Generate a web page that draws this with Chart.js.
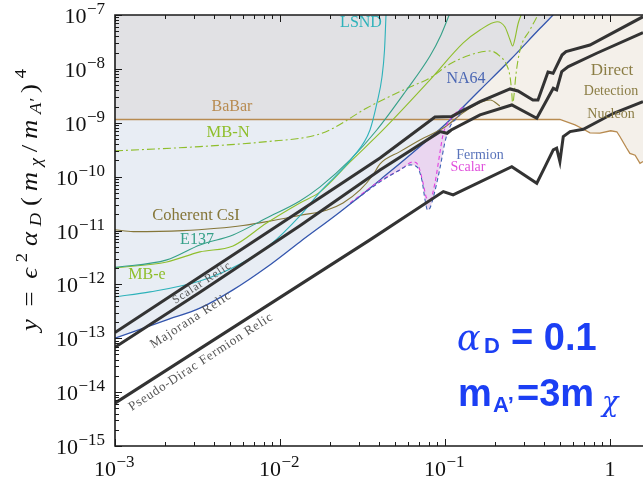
<!DOCTYPE html>
<html>
<head>
<meta charset="UTF-8">
<title>Relic targets, alpha_D = 0.1</title>
<script src="https://cdn.jsdelivr.net/npm/chart.js"></script>
<style>
  body { margin: 0; background: #fff; }
</style>
</head>
<body>
<canvas id="chart" width="643" height="480"></canvas>
<script>
// ---- axis ticks ----
const xTicks = [1e-3, 1e-2, 1e-1, 1];
const yTicks = [1e-15, 1e-14, 1e-13, 1e-12, 1e-11, 1e-10, 1e-9, 1e-8, 1e-7];

// ---- curves (m_chi in GeV, y) ----
const babarM = [0.001, 0.452];
const babarY = [1.15e-9, 1.15e-9];

const ddM = [0.001, 0.497, 0.614, 0.673, 0.756, 0.869, 1.01, 1.10, 1.15, 1.26, 1.32, 1.42, 1.52, 1.585];
const ddY = [1.15e-9, 1.15e-9, 9.1e-10, 7.9e-10, 6.5e-10, 6.4e-10, 7.1e-10, 6.8e-10, 5.5e-10, 3.4e-10, 2.7e-10, 2.5e-10, 1.77e-10, 1.9e-10];

const na64M = [0.001, 0.00206, 0.00327, 0.00519, 0.0083, 0.0132, 0.0231, 0.0404, 0.102, 0.163, 0.248, 0.377, 0.452];
const na64Y = [1.0e-13, 2.19e-13, 3.61e-13, 7.9e-13, 2.08e-12, 6.14e-12, 2.21e-11, 8.7e-11, 9.8e-10, 4.06e-9, 1.46e-8, 5.66e-8, 1e-7];

const lsndM = [0.001, 0.00163, 0.00327, 0.00573, 0.00869, 0.0132, 0.0175, 0.0277, 0.0351, 0.0387, 0.0415, 0.0430, 0.0439];
const lsndY = [5.86e-13, 7.26e-13, 1.16e-12, 2.40e-12, 5.40e-12, 1.87e-11, 5.20e-11, 2.32e-10, 7.34e-10, 2.33e-9, 7.07e-9, 2.24e-8, 1e-7];

const e137M = [0.001, 0.00206, 0.00327, 0.00519, 0.0083, 0.0132, 0.0175, 0.0266, 0.0386, 0.0573, 0.0811, 0.0946, 0.106];
const e137Y = [2.07e-12, 2.85e-12, 5.40e-12, 8.28e-12, 1.71e-11, 3.54e-11, 6.44e-11, 2.04e-10, 7.34e-10, 3.72e-9, 1.73e-8, 4.26e-8, 1e-7];

const mbeM = [0.001, 0.00206, 0.00327, 0.00519, 0.0083, 0.0132, 0.0175, 0.0266, 0.0421, 0.0811, 0.129, 0.163, 0.207, 0.231, 0.248, 0.257, 0.266, 0.277, 0.289];
const mbeY = [2.02e-12, 2.61e-12, 4.01e-12, 5.18e-12, 1.38e-11, 3.25e-11, 5.20e-11, 1.87e-10, 7.34e-10, 6.22e-9, 3.03e-8, 5.27e-8, 7.51e-8, 5.98e-8, 3.44e-8, 2.66e-8, 3.74e-8, 6.81e-8, 1e-7];

const mbnM = [0.001, 0.00327, 0.0083, 0.0167, 0.0210, 0.0336, 0.0614, 0.0811, 0.107, 0.142, 0.188, 0.215, 0.238, 0.248, 0.254, 0.257, 0.262, 0.269, 0.285, 0.327, 0.366];
const mbnY = [3.0e-10, 3.61e-10, 4.46e-10, 5.94e-10, 7.91e-10, 1.88e-9, 4.62e-9, 6.78e-9, 1.23e-8, 1.81e-8, 2.15e-8, 1.73e-8, 1.13e-8, 7.08e-9, 3.57e-9, 2.14e-9, 3.28e-9, 7.71e-9, 2.24e-8, 5.27e-8, 1e-7];

const csiM = [0.001, 0.00129, 0.00258, 0.00415, 0.00597, 0.00833, 0.0132, 0.0193, 0.0241, 0.0306, 0.0366, 0.0404, 0.0533, 0.0705, 0.1, 0.136, 0.188, 0.215];
const csiY = [1.03e-11, 9.54e-12, 9.95e-12, 1.10e-11, 1.24e-11, 1.46e-11, 1.91e-11, 2.41e-11, 3.25e-11, 5.66e-11, 1.07e-10, 1.72e-10, 2.91e-10, 4.80e-10, 8.36e-10, 1.73e-9, 2.65e-9, 2.05e-9];

const fermionM = [0.0266, 0.0404, 0.0533, 0.0614, 0.0677, 0.0726, 0.0757, 0.0783, 0.0811, 0.0851, 0.0933, 0.1, 0.107, 0.120, 0.132];
const fermionY = [3.12e-11, 7.98e-11, 1.33e-10, 1.65e-10, 1.51e-10, 8.32e-11, 3.70e-11, 2.41e-11, 2.62e-11, 4.20e-11, 1.45e-10, 4.41e-10, 8.36e-10, 1.28e-9, 1.96e-9];

const scalarM = [0.0266, 0.0404, 0.0533, 0.0640, 0.0686, 0.0736, 0.0773, 0.0811, 0.0869, 0.0933, 0.0972, 0.103, 0.115, 0.132];
const scalarY = [3.25e-11, 8.32e-11, 1.33e-10, 1.87e-10, 1.65e-10, 7.64e-11, 4.03e-11, 3.70e-11, 7.64e-11, 2.87e-10, 5.94e-10, 9.5e-10, 1.46e-9, 2.09e-9];

const scalarRelicM = [0.001, 0.00327, 0.0132, 0.0404, 0.0869, 0.110, 0.163, 0.248, 0.277, 0.341, 0.366, 0.421, 0.452, 0.512, 0.541, 0.756, 1.585];
const scalarRelicY = [1.28e-13, 1.38e-12, 2.31e-11, 2.22e-10, 1.28e-9, 1.31e-9, 2.46e-9, 4.24e-9, 3.89e-9, 2.65e-9, 2.65e-9, 8.75e-9, 8.27e-9, 1.81e-8, 2.09e-8, 2.77e-8, 9.3e-8];

const majoranaM = [0.001, 0.00327, 0.0132, 0.0404, 0.0933, 0.103, 0.109, 0.163, 0.254, 0.360, 0.453, 0.475, 0.510, 0.559, 0.830, 1.585];
const majoranaY = [6.78e-14, 7.11e-13, 1.22e-11, 1.33e-10, 6.84e-10, 6.38e-10, 7.34e-10, 1.40e-9, 2.14e-9, 1.21e-9, 4.36e-9, 4.06e-9, 8.87e-9, 1.10e-8, 1.95e-8, 4.70e-8];

const pseudoDiracM = [0.001, 0.0351, 0.0977, 0.112, 0.254, 0.360, 0.404, 0.453, 0.475, 0.497, 0.521, 0.573, 0.689, 1.05, 1.585];
const pseudoDiracY = [6.25e-15, 6.70e-12, 5.27e-11, 4.57e-11, 1.53e-10, 7.55e-11, 1.53e-10, 3.13e-10, 3.36e-10, 1.90e-10, 5.52e-10, 6.84e-10, 7.57e-10, 1.50e-9, 2.46e-9];

function pts(xs, ys) {
    return xs.map((x, i) => ({ x: x, y: ys[i] }));
}

const serif = "'Liberation Serif', 'DejaVu Serif', serif";
const sans = "'Liberation Sans', Arial, sans-serif";
const clear = 'rgba(0,0,0,0)';

function curve(data, color, width, extra) {
    return Object.assign({
        data: data,
        borderColor: color,
        borderWidth: width,
        pointRadius: 0,
        fill: false,
        tension: 0,
        order: 0
    }, extra || {});
}

const datasets = [
    // 0: direct detection region (fill only)
    curve(pts(ddM, ddY), clear, 0, { fill: 'end', backgroundColor: '#f4f0ea', order: 10 }),
    // 1: region above NA64 (gray)
    curve(pts(na64M, na64Y), clear, 0, { fill: 'end', backgroundColor: '#e1e1e4', order: 9, cubicInterpolationMode: 'monotone' }),
    // 2: below BaBar, above NA64 (light blue)
    curve(pts(babarM, babarY), clear, 0, { fill: { target: 1, above: '#e8edf4', below: clear }, order: 8 }),
    // 3: fermion/scalar pocket (pink)
    curve(pts(fermionM, fermionY), clear, 0, { fill: { target: 1, above: clear, below: '#ead6f0' }, order: 7, cubicInterpolationMode: 'monotone' }),

    curve(pts(ddM, ddY), '#b88b50', 1.3, { order: 2 }),
    curve(pts(lsndM, lsndY), '#2db2ba', 1.1, { cubicInterpolationMode: 'monotone', order: 1 }),
    curve(pts(e137M, e137Y), '#35a088', 1.1, { cubicInterpolationMode: 'monotone', order: 1 }),
    curve(pts(mbeM, mbeY), '#8fbe2c', 1.1, { cubicInterpolationMode: 'monotone', order: 1 }),
    curve(pts(mbnM, mbnY), '#8fbe2c', 1.1, { cubicInterpolationMode: 'monotone', borderDash: [8, 3, 2, 3], order: 1 }),
    curve(pts(csiM, csiY), '#857638', 1.1, { cubicInterpolationMode: 'monotone', order: 1 }),
    curve(pts(na64M, na64Y), '#3456ae', 1.3, { cubicInterpolationMode: 'monotone', order: 1 }),
    curve(pts(fermionM, fermionY), '#3f63b5', 1.1, { cubicInterpolationMode: 'monotone', borderDash: [4, 3], order: 0 }),
    curve(pts(scalarM, scalarY), '#e23fe0', 1.1, { cubicInterpolationMode: 'monotone', borderDash: [4, 3], order: 0 }),
    curve(pts(scalarRelicM, scalarRelicY), '#333333', 3, { order: -1 }),
    curve(pts(majoranaM, majoranaY), '#333333', 3, { order: -1 }),
    curve(pts(pseudoDiracM, pseudoDiracY), '#333333', 3, { order: -1 })
];

function drawRuns(ctx, runs, x0, y0, extra) {
    let x = x0;
    for (const r of runs) {
        ctx.font = r.f;
        ctx.fillText(r.t, x, y0 + (r.dy || 0));
        x += ctx.measureText(r.t).width + (r.gap || 0) + (extra || 0);
    }
}

function runsWidth(ctx, runs) {
    let w = 0;
    for (const r of runs) {
        ctx.font = r.f;
        w += ctx.measureText(r.t).width + (r.gap || 0);
    }
    return w;
}

const framePlugin = {
    id: 'frame',
    afterDraw(chart) {
        const { ctx, chartArea: a, scales: { x, y } } = chart;
        ctx.save();
        ctx.strokeStyle = '#1a1a1a';
        ctx.lineWidth = 1.6;
        ctx.beginPath();
        ctx.moveTo(a.right + 2, a.top);
        ctx.lineTo(a.left, a.top);
        ctx.lineTo(a.left, a.bottom);
        ctx.lineTo(a.right + 2, a.bottom);
        ctx.stroke();

        ctx.lineWidth = 1;
        ctx.beginPath();
        for (let d = -3; d <= 0; d++) {
            for (let k = 1; k <= 9; k++) {
                const v = k * Math.pow(10, d);
                if (v > x.max) break;
                const px = Math.round(x.getPixelForValue(v)) + 0.5;
                const len = k === 1 ? 7 : 4;
                ctx.moveTo(px, a.bottom); ctx.lineTo(px, a.bottom - len);
                ctx.moveTo(px, a.top); ctx.lineTo(px, a.top + len);
            }
        }
        for (let d = -15; d <= -7; d++) {
            for (let k = 1; k <= 9; k++) {
                const v = k * Math.pow(10, d);
                if (v > y.max * 1.0001) break;
                const py = Math.round(y.getPixelForValue(v)) + 0.5;
                const len = k === 1 ? 7 : 4;
                ctx.moveTo(a.left, py); ctx.lineTo(a.left + len, py);
            }
        }
        ctx.stroke();

        // tick labels
        ctx.fillStyle = '#111';
        ctx.textBaseline = 'alphabetic';
        for (const v of yTicks) {
            const e = Math.round(Math.log10(v));
            const runs = [{ t: '10', f: '22px ' + serif, gap: 0.5 }, { t: '\u2212' + Math.abs(e), f: '17px ' + serif, dy: -9 }];
            const w = runsWidth(ctx, runs);
            drawRuns(ctx, runs, 105 - w, y.getPixelForValue(v) + 8);
        }
        for (const v of xTicks) {
            const e = Math.round(Math.log10(v));
            const runs = e === 0 ? [{ t: '1', f: '22px ' + serif }]
                : [{ t: '10', f: '22px ' + serif, gap: 0.5 }, { t: '\u2212' + Math.abs(e), f: '17px ' + serif, dy: -9 }];
            const w = runsWidth(ctx, runs);
            const px = x.getPixelForValue(v);
            drawRuns(ctx, runs, px - (e === 0 ? w / 2 : 21), 476);
        }

        // y axis title: slight stretch, the rest of the length goes into spacing
        ctx.save();
        ctx.translate(37, 331);
        ctx.rotate(-Math.PI / 2);
        const it = 'italic 23px ' + serif, rm = '23px ' + serif;
        const sIt = 'italic 16px ' + serif, sRm = '16px ' + serif;
        const title = [
            { t: 'y', f: it, gap: 6 }, { t: '=', f: rm, gap: 6 }, { t: '\u03f5', f: it }, { t: '2', f: sRm, dy: -10, gap: 1 },
            { t: '\u03b1', f: it }, { t: 'D', f: sIt, dy: 4, gap: 1 }, { t: '(', f: rm }, { t: 'm', f: it },
            { t: '\u03c7', f: sIt, dy: 4 }, { t: '/', f: rm }, { t: 'm', f: it }, { t: 'A\u2032', f: sIt, dy: 4 },
            { t: ')', f: rm }, { t: '4', f: sRm, dy: -11 }
        ];
        const w0 = runsWidth(ctx, title);
        const s = Math.min(1.16, 262 / w0);
        const extra = Math.max(0, (262 / s - w0) / (title.length - 1));
        ctx.scale(s, 1);
        drawRuns(ctx, title, 0, 0, extra);
        ctx.restore();

        // alpha_D annotation
        ctx.fillStyle = '#1c3ff4';
        ctx.font = "italic 35px 'DejaVu Serif', serif";
        ctx.fillText('\u03b1', 457, 350);
        ctx.font = 'bold 22px ' + sans;
        ctx.fillText('D', 484, 353);
        ctx.font = 'bold 38px ' + sans;
        ctx.fillText('= 0.1', 511, 350);

        ctx.fillText('m', 458, 406);
        ctx.font = 'bold 22px ' + sans;
        ctx.fillText('A\u2019', 493, 412);
        ctx.font = 'bold 38px ' + sans;
        ctx.fillText('=3m', 517, 406);
        ctx.font = "italic 27px 'DejaVu Serif', serif";
        ctx.fillText('\u03c7', 602, 411);
        ctx.restore();
    }
};

const labelPlugin = {
    id: 'curveLabels',
    afterDatasetsDraw(chart) {
        const ctx = chart.ctx;
        ctx.save();
        ctx.textAlign = 'center';
        ctx.textBaseline = 'middle';
        const put = (t, x, y, c, s) => { ctx.fillStyle = c; ctx.font = s + 'px ' + serif; ctx.fillText(t, x, y); };
        put('LSND', 361, 23, '#2db2ba', 16);
        put('BaBar', 232, 107, '#b88b50', 16);
        put('MB-N', 228, 133, '#8fbe2c', 16.5);
        put('NA64', 466, 79, '#4a66b3', 16);
        put('Coherent CsI', 196, 216, '#857638', 16.5);
        put('E137', 197, 240, '#35a088', 16);
        put('MB-e', 147, 275, '#8fbe2c', 16);
        put('Direct', 612, 71, '#8b7d45', 17);
        put('Detection', 611, 91, '#8b7d45', 14);
        put('Nucleon', 611, 114, '#8b7d45', 14);
        put('Fermion', 480, 155, '#5a74bb', 14);
        put('Scalar', 468, 167, '#e050dc', 14);

        const rot = (t, x, y, s, sp, ang) => {
            ctx.save();
            ctx.translate(x, y);
            ctx.rotate(ang * Math.PI / 180);
            ctx.fillStyle = '#555';
            ctx.font = s + 'px ' + serif;
            ctx.letterSpacing = sp + 'px';
            ctx.fillText(t, 0, 0);
            ctx.restore();
        };
        rot('Scalar Relic', 202, 283, 11.5, 1, -33);
        rot('Majorana Relic', 191, 320, 13, 1, -33);
        rot('Pseudo-Dirac Fermion Relic', 201, 362, 13, 0.8, -33);
        ctx.restore();
    }
};

new Chart(document.getElementById('chart'), {
    type: 'line',
    data: { datasets: datasets },
    options: {
        responsive: false,
        animation: false,
        layout: { padding: { left: 115, top: 15, right: 0, bottom: 34 } },
        scales: {
            x: { type: 'logarithmic', min: 1e-3, max: 1.585, display: false },
            y: { type: 'logarithmic', min: 1e-15, max: 1e-7, display: false }
        },
        plugins: { legend: { display: false }, tooltip: { enabled: false } }
    },
    plugins: [framePlugin, labelPlugin]
});
</script>
</body>
</html>
